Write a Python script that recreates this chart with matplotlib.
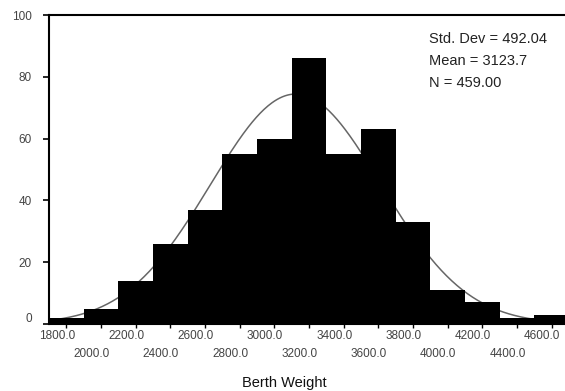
import numpy as np
import matplotlib
matplotlib.use("Agg")
import matplotlib.pyplot as plt
from matplotlib.transforms import offset_copy, blended_transform_factory, ScaledTranslation

# ---- data ----
bin_centers = [1800, 2000, 2200, 2400, 2600, 2800, 3000, 3200,
               3400, 3600, 3800, 4000, 4200, 4400, 4600]
counts = [2, 5, 14, 26, 37, 55, 60, 86, 55, 63, 33, 11, 7, 2, 3]
bin_width = 200
std_dev = 492.04
mean = 3123.7
n_obs = 459
x_tick_values = bin_centers
x_tick_labels = [f"{v:.1f}" for v in bin_centers]
y_tick_values = [0, 20, 40, 60, 80, 100]
stats_lines = [f"Std. Dev = {std_dev:.2f}", f"Mean = {mean:.1f}", f"N = {n_obs:.2f}"]
x_label = "Berth Weight"

plt.rcParams['font.family'] = ['Liberation Sans', 'DejaVu Sans']

W, H = 565, 391
fig = plt.figure(figsize=(W / 100, H / 100), dpi=100)
left_px, right_px, top_px, bot_px = 49, 569, 15, 324
ax = fig.add_axes([left_px / W, 1 - bot_px / H,
                   (right_px - left_px) / W, (bot_px - top_px) / H])

# fitted normal curve (from displayed statistics), drawn under bars
xs = np.linspace(1700, 4700, 400)
ys = n_obs * bin_width / (std_dev * np.sqrt(2 * np.pi)) * np.exp(-0.5 * ((xs - mean) / std_dev) ** 2)
ax.plot(xs, ys, color='#666666', lw=1.1, zorder=1)

ax.bar(bin_centers, counts, width=bin_width, color='black', edgecolor='none', zorder=2)

ax.set_xlim(1700, 4700)
ax.set_ylim(0, 100)

for side in ['left', 'top', 'bottom']:
    ax.spines[side].set_linewidth(1.5)
    ax.spines[side].set_color('black')
ax.spines['right'].set_visible(False)

# y ticks
ax.set_yticks(y_tick_values)
ax.set_yticklabels([str(v) for v in y_tick_values])
ax.tick_params(axis='y', length=4, width=1.2, pad=8.5, labelsize=8.5, labelcolor='#444444')
ylab = ax.get_yticklabels()
ylab[0].set_transform(ylab[0].get_transform() + ScaledTranslation(0, 7 / 100, fig.dpi_scale_trans))

# x ticks (staggered labels, offset left like the original)
ax.set_xticks(x_tick_values)
ax.set_xticklabels([])
ax.tick_params(axis='x', length=3, width=1.0, direction='out')
trans = blended_transform_factory(ax.transData, ax.transAxes)
for i, (v, lab) in enumerate(zip(x_tick_values, x_tick_labels)):
    dy_px = -12 if i % 2 == 0 else -30
    t = offset_copy(trans, fig=fig, x=-9.5 * 0.72, y=dy_px * 0.72, units='points')
    ax.text(v, 0, lab, transform=t, ha='center', va='center',
            fontsize=8.5, color='#444444', clip_on=False)

# stats text
for i, s in enumerate(stats_lines):
    fig.text(429 / W, 1 - (39 + 22 * i) / H, s, ha='left', va='center',
             fontsize=10.5, color='#222222')

fig.text(284 / W, 1 - 383 / H, x_label, ha='center', va='center',
         fontsize=10.5, color='#111111')

fig.savefig("out.png", dpi=100)
